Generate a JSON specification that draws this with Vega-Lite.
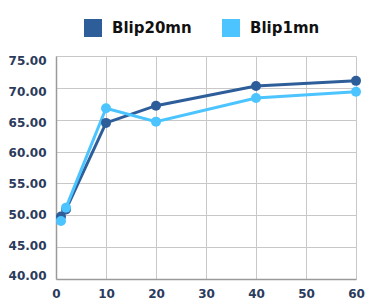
{
  "$schema": "https://vega.github.io/schema/vega-lite/v6.json",
  "width": 300,
  "height": 223,
  "autosize": "none",
  "padding": {"left": 56, "top": 56, "right": 14, "bottom": 29},
  "background": "white",
  "config": {
    "view": {"stroke": null},
    "font": "DejaVu Sans"
  },
  "data": {
    "values": [
      {"x": 1, "y": 49.8, "series": "Blip20mn"},
      {"x": 2, "y": 50.9, "series": "Blip20mn"},
      {"x": 10, "y": 64.5, "series": "Blip20mn"},
      {"x": 20, "y": 67.2, "series": "Blip20mn"},
      {"x": 40, "y": 70.3, "series": "Blip20mn"},
      {"x": 60, "y": 71.1, "series": "Blip20mn"},
      {"x": 1, "y": 49.1, "series": "Blip1mn"},
      {"x": 2, "y": 51.2, "series": "Blip1mn"},
      {"x": 10, "y": 66.8, "series": "Blip1mn"},
      {"x": 20, "y": 64.7, "series": "Blip1mn"},
      {"x": 40, "y": 68.4, "series": "Blip1mn"},
      {"x": 60, "y": 69.4, "series": "Blip1mn"}
    ]
  },
  "encoding": {
    "x": {
      "field": "x", "type": "quantitative",
      "scale": {"domain": [0, 60], "nice": false},
      "axis": {
        "title": null, "values": [0, 10, 20, 30, 40, 50, 60],
        "labelFont": "DejaVu Sans", "labelFontWeight": "bold", "labelFontSize": 12,
        "labelColor": "#2B3B5C", "labelPadding": 9, "ticks": false,
        "domainColor": "#9a9a9a", "domainWidth": 1.5,
        "gridColor": "#c8c8c8", "labelFlush": false
      }
    },
    "y": {
      "field": "y", "type": "quantitative",
      "scale": {"domain": [40, 75], "nice": false, "zero": false},
      "axis": {
        "title": null, "values": [40, 45, 50, 55, 60, 65, 70, 75], "format": ".2f",
        "labelFont": "DejaVu Sans", "labelFontWeight": "bold", "labelFontSize": 12,
        "labelColor": "#2B3B5C", "labelPadding": 10, "ticks": false,
        "domainColor": "#9a9a9a", "domainWidth": 1.5,
        "gridColor": "#c8c8c8", "labelFlush": false,
        "labelOffset": {
          "condition": [
            {"test": "datum.value == 75", "value": 4.8},
            {"test": "datum.value == 70", "value": 3.7},
            {"test": "datum.value == 65", "value": 2.5},
            {"test": "datum.value == 60", "value": 1.4},
            {"test": "datum.value == 55", "value": 0.2},
            {"test": "datum.value == 50", "value": -0.9},
            {"test": "datum.value == 45", "value": -2.1},
            {"test": "datum.value == 40", "value": -3.2}
          ],
          "value": 0
        }
      }
    },
    "color": {
      "field": "series", "type": "nominal",
      "scale": {"domain": ["Blip20mn", "Blip1mn"], "range": ["#2E5E9A", "#4CC4FF"]},
      "legend": {
        "title": null, "orient": "none", "direction": "horizontal",
        "legendX": 28, "legendY": -37,
        "symbolType": "square", "symbolSize": 324, "symbolStrokeWidth": 0,
        "symbolOpacity": 1,
        "labelFont": "DejaVu Sans", "labelFontWeight": "bold", "labelFontSize": 15,
        "labelColor": "#111111", "labelOffset": 10, "columnPadding": 30
      }
    },
    "order": {"field": "x", "type": "quantitative"}
  },
  "layer": [
    {"mark": {"type": "line", "strokeWidth": 3}},
    {"mark": {"type": "circle", "size": 100, "opacity": 1}}
  ]
}
